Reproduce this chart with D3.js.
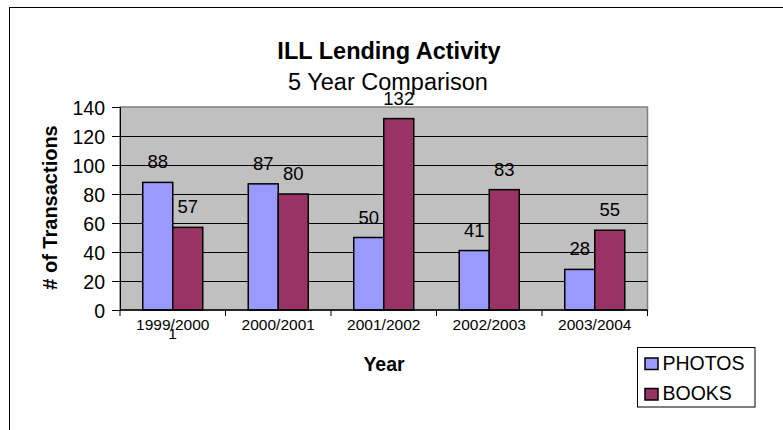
<!DOCTYPE html>
<html>
<head>
<meta charset="UTF-8">
<title>ILL Lending Activity</title>
<script src="https://cdn.jsdelivr.net/npm/d3@7"></script>
<style>
  body { margin: 0; background: #fff; }
  svg text { font-family: "Liberation Sans", Arial, sans-serif; fill: #000; }
</style>
</head>
<body>
<svg width="783" height="430"></svg>
<script>
// chart data
var years = ["1999/2000", "2000/2001", "2001/2002", "2002/2003", "2003/2004"];
var seriesNames = ["PHOTOS", "BOOKS"];
var photos = [88, 87, 50, 41, 28];
var books = [57, 80, 132, 83, 55];
var yTicks = [0, 20, 40, 60, 80, 100, 120, 140];
var colors = { PHOTOS: "#9999ff", BOOKS: "#993366" };

var svg = d3.select("svg");

// outer chart frame
svg.append("rect")
    .attr("x", 9.5).attr("y", 7.5)
    .attr("width", 800).attr("height", 440)
    .attr("fill", "#fff")
    .attr("stroke", "#000").attr("stroke-width", 1);

var plot = { left: 120, right: 647.5, top: 107, bottom: 310 };

var x0 = d3.scaleBand().domain(years).range([plot.left, plot.right]);
var x1 = d3.scaleBand().domain(seriesNames).range([0, x0.bandwidth()])
    .paddingInner(0).paddingOuter(0.758);
var y = d3.scaleLinear().domain([0, 140]).range([plot.bottom, plot.top]);

// plot background
svg.append("rect")
    .attr("x", plot.left).attr("y", plot.top)
    .attr("width", plot.right - plot.left).attr("height", plot.bottom - plot.top)
    .attr("fill", "#c0c0c0")
    .attr("stroke", "#808080").attr("stroke-width", 1.5);

// gridlines
svg.append("g").selectAll("line")
    .data(yTicks.filter(function (d) { return d > 0 && d < 140; }))
    .enter().append("line")
    .attr("x1", plot.left).attr("x2", plot.right)
    .attr("y1", function (d) { return Math.round(y(d)) + 0.5; })
    .attr("y2", function (d) { return Math.round(y(d)) + 0.5; })
    .attr("stroke", "#000").attr("stroke-width", 1);

// bars
var rows = years.map(function (yr, i) {
    return { year: yr, values: [
        { key: "PHOTOS", value: photos[i] },
        { key: "BOOKS", value: books[i] }
    ] };
});

var groups = svg.append("g").selectAll("g")
    .data(rows).enter().append("g")
    .attr("transform", function (d) { return "translate(" + x0(d.year) + ",0)"; });

groups.selectAll("rect")
    .data(function (d) { return d.values; })
    .enter().append("rect")
    .attr("x", function (d) { return x1(d.key); })
    .attr("y", function (d) { return y(d.value); })
    .attr("width", x1.bandwidth())
    .attr("height", function (d) { return y(0) - y(d.value); })
    .attr("fill", function (d) { return colors[d.key]; })
    .attr("stroke", "#000").attr("stroke-width", 1.5);

groups.selectAll("text")
    .data(function (d) { return d.values; })
    .enter().append("text")
    .attr("x", function (d) { return x1(d.key) + x1.bandwidth() / 2; })
    .attr("y", function (d) { return y(d.value) - 14; })
    .attr("text-anchor", "middle")
    .attr("font-size", 18.5)
    .text(function (d) { return d.value; });

// y axis
var yAxis = d3.axisLeft(y).tickValues(yTicks).tickSize(8).tickPadding(7);
var gy = svg.append("g").attr("transform", "translate(" + plot.left + ",0)").call(yAxis);
gy.selectAll("text").attr("font-size", 19.5).attr("font-family", null).attr("dy", "0.4em");
gy.selectAll("line, path").attr("stroke", "#000");

// x axis with ticks at category boundaries
var gx = svg.append("g");
gx.append("line")
    .attr("x1", plot.left).attr("x2", plot.right)
    .attr("y1", plot.bottom).attr("y2", plot.bottom)
    .attr("stroke", "#000").attr("stroke-width", 1.5);
gx.selectAll(".tk")
    .data(years.concat(["end"]))
    .enter().append("line")
    .attr("x1", function (d) { return d === "end" ? plot.right : x0(d); })
    .attr("x2", function (d) { return d === "end" ? plot.right : x0(d); })
    .attr("y1", plot.bottom).attr("y2", plot.bottom + 6)
    .attr("stroke", "#000");
// stray "1" under the first category label (drawn first, label overlaps it)
gx.append("text")
    .attr("x", 172.5).attr("y", 338.5)
    .attr("text-anchor", "middle")
    .attr("font-size", 15.5)
    .text("1");
gx.selectAll(".lbl")
    .data(years).enter().append("text")
    .attr("x", function (d) { return x0(d) + x0.bandwidth() / 2; })
    .attr("y", 329.5)
    .attr("text-anchor", "middle")
    .attr("font-size", 15.5)
    .text(function (d) { return d; });

// titles
svg.append("text")
    .attr("x", 389).attr("y", 58.5)
    .attr("text-anchor", "middle")
    .attr("font-size", 23.5).attr("font-weight", "bold")
    .text("ILL Lending Activity");
svg.append("text")
    .attr("x", 388).attr("y", 90)
    .attr("text-anchor", "middle")
    .attr("font-size", 23.5)
    .text("5 Year Comparison");

svg.append("text")
    .attr("transform", "translate(57,207.5) rotate(-90)")
    .attr("text-anchor", "middle")
    .attr("font-size", 20).attr("font-weight", "bold")
    .text("# of Transactions");

svg.append("text")
    .attr("x", 384).attr("y", 371)
    .attr("text-anchor", "middle")
    .attr("font-size", 19.5).attr("font-weight", "bold")
    .text("Year");

// legend
var legend = svg.append("g").attr("transform", "translate(637.5,347.5)");
legend.append("rect")
    .attr("width", 117.5).attr("height", 59.5)
    .attr("fill", "#fff").attr("stroke", "#000");
var items = legend.selectAll(".item")
    .data(seriesNames).enter().append("g")
    .attr("transform", function (d, i) { return "translate(7.5," + (10.5 + i * 30.5) + ")"; });
items.append("rect")
    .attr("width", 13).attr("height", 11.5)
    .attr("fill", function (d) { return colors[d]; })
    .attr("stroke", "#000").attr("stroke-width", 1.5);
items.append("text")
    .attr("x", 17.5).attr("y", 11.5)
    .attr("font-size", 19.5)
    .text(function (d) { return d; });
</script>
</body>
</html>
